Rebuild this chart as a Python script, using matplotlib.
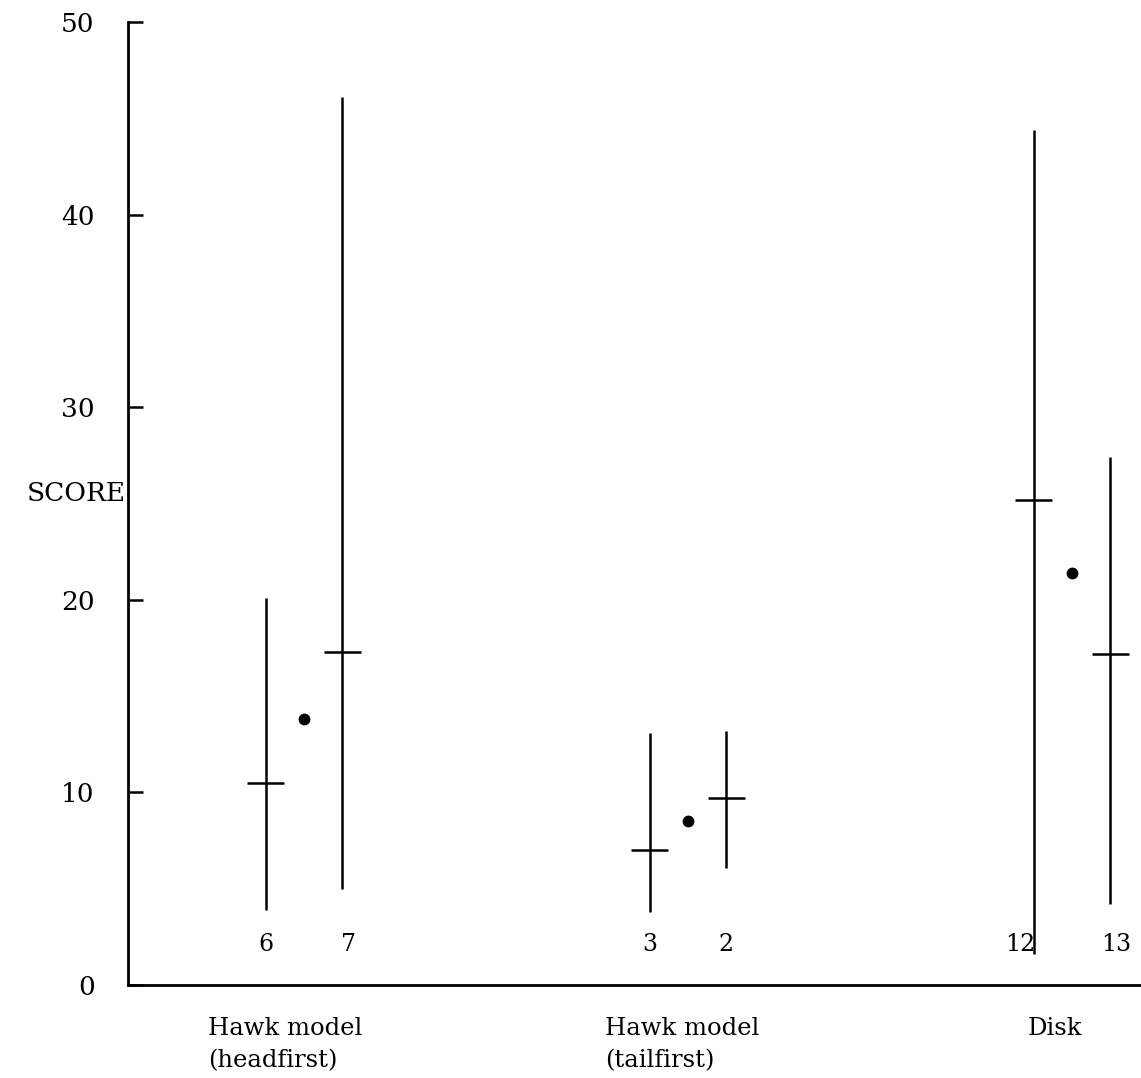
import matplotlib
matplotlib.use("Agg")
import matplotlib.pyplot as plt
import matplotlib.transforms as mtransforms

# ---- data ----
groups = ["Hawk model\n(headfirst)", "Hawk model\n(tailfirst)", "Disk"]
group_pos = [1, 2, 3]
# each group: two subjects (left, right)
subject_ids = [["6", "7"], ["3", "2"], ["12", "13"]]
range_low = [[3.9, 5.0], [3.8, 6.1], [1.6, 4.2]]
range_high = [[20.1, 46.1], [13.1, 13.2], [44.4, 27.4]]
means = [[10.5, 17.3], [7.0, 9.7], [25.2, 17.2]]
group_means = [13.8, 8.5, 21.4]
yticks = [0, 10, 20, 30, 40, 50]

# ---- style ----
plt.rcParams['font.family'] = ['DejaVu Serif']
fig = plt.figure(figsize=(11.41, 10.78), dpi=100)
ax = fig.add_axes([128/1141, 1-985/1078, 1-128/1141, (985-22)/1078])
ax.set_xlim(1 - 176/384, 1 + 837/384)
ax.set_ylim(0, 50)

offset = 0.1
half_w = 0.048
lw = 1.8
for g, gp in enumerate(group_pos):
    for k, sgn in enumerate([-1, 1]):
        x = gp + sgn * offset
        ax.vlines(x, range_low[g][k], range_high[g][k], color='black', lw=lw)
        ax.hlines(means[g][k], x - half_w, x + half_w, color='black', lw=lw)
    ax.plot(gp, group_means[g], 'o', color='black', markersize=7.5)

# subject labels
lbl_dx = [[0.0, 0.015], [0.0, 0.0], [-0.035, 0.015]]
for g, gp in enumerate(group_pos):
    for k, sgn in enumerate([-1, 1]):
        x = gp + sgn * offset + lbl_dx[g][k]
        ax.text(x, 2.1, subject_ids[g][k], ha='center', va='center', fontsize=17)

# group labels below axis
trans = mtransforms.blended_transform_factory(ax.transData, ax.transAxes)
lbl_x = [0.75, 1.785, 2.885]
for g in range(3):
    ax.text(lbl_x[g], -0.033, groups[g], ha='left', va='top', fontsize=17.5,
            transform=trans, linespacing=1.55)

# y label
trans_y = mtransforms.blended_transform_factory(ax.transAxes, ax.transData)
ax.text(-0.002, 25.5, "SCORE", ha='right', va='center', fontsize=19, transform=trans_y)

ax.set_yticks(yticks)
ax.set_yticklabels([str(v) for v in yticks], fontsize=19)
ax.set_xticks([])
ax.tick_params(axis='y', direction='in', length=11, width=1.8, pad=24)
for s in ['top', 'right']:
    ax.spines[s].set_visible(False)
for s in ['left', 'bottom']:
    ax.spines[s].set_linewidth(2.0)

fig.savefig("out.png", dpi=100)
